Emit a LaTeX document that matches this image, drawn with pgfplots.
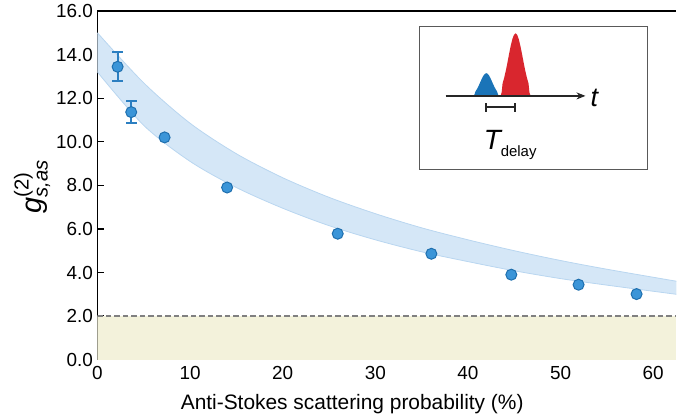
\documentclass[border=0pt]{standalone}
\usepackage{fontspec}
\setmainfont{Liberation Sans}
\usepackage{amsmath}
\usepackage{pgfplots}
\pgfplotsset{compat=1.18}
\usepgfplotslibrary{fillbetween}
\usetikzlibrary{arrows.meta}

\definecolor{bandfill}{HTML}{D5E7F7}
\definecolor{bandedge}{HTML}{B9D6F0}
\definecolor{ptfill}{HTML}{3B95D8}
\definecolor{ptedge}{HTML}{1F6FAE}
\definecolor{errcol}{HTML}{2C7FC1}
\definecolor{classical}{HTML}{F3F2DB}
\definecolor{pulseblue}{HTML}{1A74B8}
\definecolor{pulsered}{HTML}{D9262E}

\begin{document}
\begin{tikzpicture}
% page frame
\path (0,0) rectangle (677bp,420bp);

\begin{axis}[
  at={(97.5bp,60bp)}, anchor=south west,
  scale only axis, width=579.5bp, height=349bp,
  xmin=0, xmax=62.5, ymin=0, ymax=16,
  axis x line=box, axis y line=left,
  axis line style={-, line width=1.2bp, black},
  tick align=inside, xtick pos=bottom, ytick pos=left,
  major tick length=6.5bp,
  tick style={line width=1.2bp, black},
  xtick={0,10,20,30,40,50,60},
  ytick={0,2,4,6,8,10,12,14,16},
  yticklabels={0.0,2.0,4.0,6.0,8.0,10.0,12.0,14.0,16.0},
  /pgf/number format/assume math mode=true,
  ticklabel style={font=\fontsize{19}{22}\selectfont},
  xticklabel style={yshift=-3bp},
  yticklabel style={xshift=-1bp},
  xlabel={Anti-Stokes scattering probability (\%)},
  xlabel style={font=\fontsize{21}{25}\selectfont, inner sep=0pt,
    at={(axis description cs:0.44,-0.1)}, anchor=north},
  ylabel={$\text{\itshape g}^{\text{(2)}}_{\text{\itshape s,as}}$},
  ylabel style={font=\fontsize{29}{32}\selectfont, inner sep=0pt,
    at={(axis description cs:-0.113,0.496)}, anchor=center},
  clip=true,
]
% classical region below g = 2
\addplot[fill=classical, draw=none] coordinates {(0,0) (62.5,0) (62.5,2) (0,2)} -- cycle;
\addplot[black!50, line width=1.5bp, dash pattern=on 5.5bp off 3bp] coordinates {(0,2) (62.5,2)};

% theory band
\addplot[name path=upper, bandedge, line width=0.8bp, smooth] coordinates {
  (0,15.0) (5,12.7) (10,10.85) (15,9.45) (20,8.35) (25,7.45) (30,6.7)
  (35,6.05) (40,5.5) (45,5.0) (50,4.55) (55,4.15) (62.5,3.6)};
\addplot[name path=lower, bandedge, line width=0.8bp, smooth] coordinates {
  (0,13.2) (5,10.75) (10,9.1) (15,7.9) (20,6.95) (25,6.15) (30,5.5)
  (35,4.95) (40,4.5) (45,4.08) (50,3.72) (55,3.42) (62.5,3.0)};
\addplot[bandfill, draw=none] fill between[of=upper and lower];

% error bars of the two shortest delays (13.44 +- 0.67, 11.36 +- 0.52)
\addplot[errcol, line width=2bp, mark=-, mark size=5.3bp,
  mark options={solid, line width=2bp}]
  coordinates {(2.18,12.77) (2.18,14.11)};
\addplot[errcol, line width=2bp, mark=-, mark size=5.3bp,
  mark options={solid, line width=2bp}]
  coordinates {(3.65,10.84) (3.65,11.88)};

% measured cross-correlation
\addplot[only marks, mark=*, mark size=5.5bp,
  mark options={fill=ptfill, draw=ptedge, line width=1bp}]
  coordinates {
  (2.18,13.44) (3.65,11.36) (7.25,10.2) (14.0,7.9) (25.94,5.78)
  (36.05,4.86) (44.68,3.9) (51.94,3.44) (58.2,3.01)};
\end{axis}

% inset: pulse sequence
\begin{axis}[
  at={(420bp,250bp)}, anchor=south west,
  scale only axis, width=228bp, height=143.3bp,
  xmin=0, xmax=228, ymin=0, ymax=143.3,
  ticks=none,
  axis line style={-, line width=1.1bp, draw=black!65},
  axis background/.style={fill=white},
  clip=false,
]
\addplot[fill=pulseblue, draw=none] coordinates {
  (54.0,74) (55.0,75.6) (55.9,78.49) (57.25,80.57) (58.6,83.13) (59.95,86.05) (61.3,89.14)
  (62.65,92.07) (64.0,94.52) (65.35,96.13) (66.7,96.7) (68.05,96.13) (69.4,94.52)
  (70.75,92.07) (72.1,89.14) (73.45,86.05) (74.8,83.13) (76.15,80.57) (77.5,78.49)
  (78.4,75.6) (79.4,74)} -- cycle;
\addplot[fill=pulsered, draw=none] coordinates {
  (81.0,74) (82.1,77.5) (83.0,86.41) (84.625,92.14) (86.25,99.21) (87.875,107.29) (89.5,115.82)
  (91.125,123.91) (92.75,130.67) (94.375,135.13) (96,136.7) (97.625,135.13)
  (99.25,130.67) (100.875,123.91) (102.5,115.82) (104.125,107.29) (105.75,99.21)
  (107.375,92.14) (109.0,86.41) (109.9,77.5) (111.0,74)} -- cycle;
\addplot[black!85, line width=1.4bp, -{Stealth[length=9bp, width=7bp]}] coordinates {(26,74) (166,74)};
\addplot[black!85, line width=1.6bp] coordinates {(66.7,62.7) (95.3,62.7)};
\addplot[black!85, line width=1.6bp] coordinates {(66.7,58.2) (66.7,67.2)};
\addplot[black!85, line width=1.6bp] coordinates {(95.3,58.2) (95.3,67.2)};
\node[anchor=base west, inner sep=0pt] at (axis cs:171,63)
  {\fontsize{27}{30}\selectfont\itshape t};
\node[anchor=base west, inner sep=0pt] at (axis cs:64,20)
  {{\fontsize{28}{30}\selectfont\itshape T}\raisebox{-7bp}{\fontsize{15}{18}\selectfont delay}};
\end{axis}
\end{tikzpicture}
\end{document}
